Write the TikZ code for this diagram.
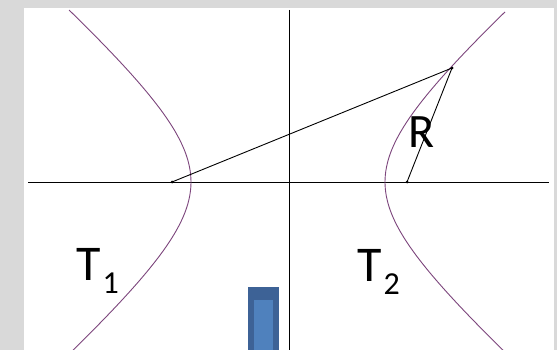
\documentclass[tikz,border=0pt]{standalone}
\usepackage{fontspec}
\setmainfont{Carlito}
\definecolor{bggray}{HTML}{D9D9D9}
\definecolor{hypcol}{RGB}{125,70,125}
\definecolor{darkblue}{HTML}{3D6296}
\definecolor{lightblue}{HTML}{4F81BD}
\begin{document}
\begin{tikzpicture}[x=1pt,y=-1pt,
  axisline/.style={black,line width=0.9pt},
  hyp/.style={hypcol,line width=0.9pt},
  segline/.style={black,line width=0.9pt},
  dotnode/.style={circle,fill=black,inner sep=0pt,minimum size=3pt},
  bigtext/.style={inner sep=0pt,anchor=base west,text=black}]
\useasboundingbox (0,0) rectangle (557,350);
\fill[bggray] (0,0) rectangle (557,350);
\fill[white] (24,8) rectangle (554,350);
% axes
\coordinate (xl) at (28,182);
\coordinate (xr) at (549,182);
\coordinate (yt) at (289,10);
\coordinate (yb) at (289,350);
\draw[axisline] (xl) -- (xr);
\draw[axisline] (yt) -- (yb);
% hyperbolas
\draw[hyp,smooth,samples=60,domain=-1.436:1.454] plot ({288-97*cosh(\x)},{182-85*sinh(\x)});
\draw[hyp,smooth,samples=60,domain=-1.436:1.444] plot ({288+97*cosh(\x)},{182-85*sinh(\x)});
% foci and point
\node[dotnode] (f1) at (172,182) {};
\node[dotnode] (f2) at (407,182) {};
\node[dotnode] (p) at (452,68) {};
\draw[segline] (p.center) -- (f1.center);
\draw[segline] (p.center) -- (f2.center);
% labels
\node[bigtext] (r) at (408,148) {\fontsize{48}{48}\selectfont R};
\node[bigtext] (t1) at (76,280) {\fontsize{50}{50}\selectfont T\hspace{2pt}\raisebox{-13pt}{\fontsize{32}{32}\selectfont 1}};
\node[bigtext] (t2) at (357,281) {\fontsize{50}{50}\selectfont T\hspace{2pt}\raisebox{-13pt}{\fontsize{32}{32}\selectfont 2}};
% blue bar
\fill[darkblue] (248,287) rectangle (279,350);
\fill[lightblue] (254,300) rectangle (273,350);
\end{tikzpicture}
\end{document}
